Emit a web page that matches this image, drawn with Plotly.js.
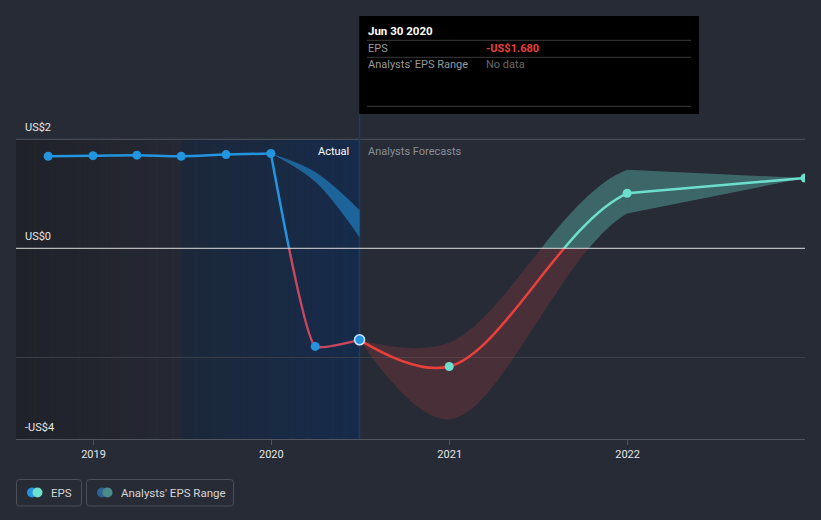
<!DOCTYPE html>
<html>
<head>
<meta charset="utf-8">
<script src="https://cdn.plot.ly/plotly-3.0.1.min.js"></script>
<style>
  html, body { margin: 0; padding: 0; background: #262b36; }
  #chart { width: 821px; height: 520px; }
</style>
</head>
<body>
<div id="chart"></div>
<script>
// ---- data ----
const actualDates = ['2018-09-30','2018-12-31','2019-03-31','2019-06-30','2019-09-30','2019-12-31','2020-03-31','2020-06-30'];
const actualEPS   = [1.69, 1.70, 1.71, 1.69, 1.72, 1.74, -1.80, -1.68];

const forecastDates = ['2020-06-30','2020-12-31','2021-12-31','2022-12-31'];
const forecastEPS   = [-1.68, -2.17, 1.01, 1.29];
const forecastLow   = [-1.68, -3.14, 0.64, 1.29];
const forecastHigh  = [-1.68, -1.73, 1.44, 1.29];

const priorRangeDates = ['2019-12-31','2020-03-31','2020-06-30'];
const priorRangeLow   = [1.74, 1.22, 0.20];
const priorRangeHigh  = [1.74, 1.40, 0.70];

const xTickVals = ['2019-01-01','2020-01-01','2021-01-01','2022-01-01'];
const xTickText = ['2019','2020','2021','2022'];
const yTickVals = [2, 0, -3.5];
const yTickText = ['US$2','US$0','-US$4'];

const tooltipDate = 'Jun 30 2020';
const tooltipEPS = '-US$1.680';
const tooltipRange = 'No data';

// ---- styling / geometry ----
const FONT = 'Roboto, "Open Sans", sans-serif';
const BLUE = '#2394df', TEAL = '#6de0cd', RED = '#e8413c', PINK = '#c9485f';
const TEAL_BAND = 'rgba(110,224,207,0.33)', RED_BAND = 'rgba(232,65,60,0.18)', BLUE_BAND = 'rgba(35,148,223,0.55)';
const W = 821, H = 520, ML = 16, MR = 16, MT = 123, MB = 81;
const PW = W - ML - MR, PH = H - MT - MB;
const X_START = '2018-07-26', X_END = '2022-12-31';
const Y_MIN = -3.5, Y_MAX = 2.3;
const ySplit = (0 - Y_MIN) / (Y_MAX - Y_MIN);
const kneeIdx = 2;                                   // forecast point where the curve kinks
const kneeDate = forecastDates[kneeIdx];
const xSplit = (Date.parse(kneeDate) - Date.parse(X_START)) / (Date.parse(X_END) - Date.parse(X_START));
const fx = px => (px - ML) / PW;
const fy = py => (H - MB - py) / PH;

const traces = [];
traces.push({x: [], y: [], type: 'scatter', mode: 'lines', xaxis: 'x', yaxis: 'y', hoverinfo: 'skip', showlegend: false});

function band(dates, lo, hi, xa, ya, color, sm) {
  const base = {type: 'scatter', mode: 'lines', xaxis: xa, yaxis: ya, hoverinfo: 'skip', showlegend: false};
  traces.push(Object.assign({x: dates, y: lo, line: {width: 0, shape: 'spline', smoothing: sm || 1, color: color}}, base));
  traces.push(Object.assign({x: dates, y: hi, line: {width: 0, shape: 'spline', smoothing: sm || 1, color: color},
    fill: 'tonexty', fillcolor: color}, base));
}
function line(dates, vals, xa, ya, color, sm) {
  traces.push({x: dates, y: vals, type: 'scatter', mode: 'lines', line: {width: 2.5, shape: 'spline', smoothing: sm || 1, color: color},
    xaxis: xa, yaxis: ya, hoverinfo: 'skip', showlegend: false});
}
function markers(dates, vals, xa, ya, color, size, clip, outline) {
  traces.push({x: dates, y: vals, type: 'scatter', mode: 'markers', cliponaxis: clip,
    marker: {size: size, color: color, line: {width: outline ? 1.5 : 0, color: outline || color}},
    xaxis: xa, yaxis: ya, hoverinfo: 'skip', showlegend: false});
}
function pick(dates, vals, test) {
  const d = [], v = [];
  dates.forEach((t, i) => { if (test(vals[i], i)) { d.push(t); v.push(vals[i]); } });
  return [d, v];
}
const flatA = [actualDates.slice(0, 6), actualEPS.slice(0, 6)];
const dropA = [actualDates.slice(5), actualEPS.slice(5)];
const last = actualEPS.length - 1;
const lastF = forecastEPS.length - 1;

// head part (up to the knee), above zero: x2/y2
band(priorRangeDates, priorRangeLow, priorRangeHigh, 'x2', 'y2', BLUE_BAND);
band(forecastDates, forecastLow, forecastHigh, 'x2', 'y2', TEAL_BAND);
line(flatA[0], flatA[1], 'x2', 'y2', BLUE);
line(dropA[0], dropA[1], 'x2', 'y2', BLUE, 0.4);
line(forecastDates, forecastEPS, 'x2', 'y2', TEAL);
let [ad, av] = pick(actualDates, actualEPS, v => v >= 0);
markers(ad, av, 'x2', 'y2', BLUE, 9, false);
let [fd, fv] = pick(forecastDates, forecastEPS, (v, i) => v >= 0 && i > 0 && i < lastF);
markers(fd, fv, 'x2', 'y2', TEAL, 9, false);

// head part, below zero: x2/y3
band(forecastDates, forecastLow, forecastHigh, 'x2', 'y3', RED_BAND);
line(dropA[0], dropA[1], 'x2', 'y3', PINK, 0.4);
line(forecastDates, forecastEPS, 'x2', 'y3', RED);
[ad, av] = pick(actualDates, actualEPS, (v, i) => v < 0 && i < last);
markers(ad, av, 'x2', 'y3', BLUE, 9, false);
[fd, fv] = pick(forecastDates, forecastEPS, (v, i) => v < 0 && i > 0 && i < lastF);
markers(fd, fv, 'x2', 'y3', TEAL, 9, false);
markers([actualDates[last]], [actualEPS[last]], 'x2', 'y3', BLUE, 10, false, '#cfe6ff');

// tail part (after the knee), above zero: x/y2
const tD = forecastDates.slice(kneeIdx), tE = forecastEPS.slice(kneeIdx);
band(tD, forecastLow.slice(kneeIdx), forecastHigh.slice(kneeIdx), 'x', 'y2', TEAL_BAND);
line(tD, tE, 'x', 'y2', TEAL);
markers([forecastDates[lastF]], [forecastEPS[lastF]], 'x', 'y2', TEAL, 9, true);

// ---- shapes ----
const shapes = [];
function lerp(a, b, t) { return a.map((v, i) => Math.round(v + (b[i] - v) * t)); }
function stripes(px0, px1, c0, c1, n) {
  for (let i = 0; i < n; i++) {
    const c = lerp(c0, c1, (i + 0.5) / n);
    shapes.push({type: 'rect', layer: 'below', xref: 'paper', yref: 'y',
      x0: fx(px0 + (px1 - px0) * i / n), x1: fx(px0 + (px1 - px0) * (i + 1) / n) + 0.0005,
      y0: Y_MIN, y1: 2, line: {width: 0}, fillcolor: 'rgb(' + c.join(',') + ')'});
  }
}
stripes(16, 181.5, [31, 34, 41], [37, 41, 51], 30);
stripes(181.5, 359.3, [28, 40, 57], [22, 43, 75], 30);
shapes.push({type: 'line', layer: 'below', xref: 'paper', yref: 'y', x0: 0, x1: 1, y0: 2, y1: 2, line: {color: '#4e535e', width: 1}});
shapes.push({type: 'line', layer: 'below', xref: 'x', yref: 'paper', x0: actualDates[last], x1: actualDates[last], y0: 0, y1: fy(114), line: {color: '#1e3b62', width: 1.5}});
shapes.push({type: 'line', layer: 'above', xref: 'paper', yref: 'y', x0: 0, x1: 1, y0: 0, y1: 0, line: {color: '#dedede', width: 1}});
shapes.push({type: 'rect', layer: 'above', xref: 'paper', yref: 'paper', x0: fx(359.3), x1: fx(699), y0: fy(114), y1: fy(16), line: {width: 0}, fillcolor: '#000000'});
[40.3, 57.3, 106.3].forEach(py => shapes.push({type: 'line', layer: 'above', xref: 'paper', yref: 'paper',
  x0: fx(367), x1: fx(691), y0: fy(py), y1: fy(py), line: {color: '#3b3b3b', width: 1}}));
function roundRect(x0, y0, x1, y1, r) {
  const X = fx, Y = fy;
  return {type: 'path', layer: 'above', xref: 'paper', yref: 'paper', line: {color: '#4b505b', width: 1},
    path: `M${X(x0 + r)},${Y(y0)} L${X(x1 - r)},${Y(y0)} Q${X(x1)},${Y(y0)} ${X(x1)},${Y(y0 + r)} L${X(x1)},${Y(y1 - r)} Q${X(x1)},${Y(y1)} ${X(x1 - r)},${Y(y1)} L${X(x0 + r)},${Y(y1)} Q${X(x0)},${Y(y1)} ${X(x0)},${Y(y1 - r)} L${X(x0)},${Y(y0 + r)} Q${X(x0)},${Y(y0)} ${X(x0 + r)},${Y(y0)} Z`};
}
shapes.push(roundRect(16.5, 479.5, 81.5, 506, 3));
shapes.push(roundRect(86.5, 479.5, 233.5, 506, 3));
function dot(cx, cy, r, color) {
  shapes.push({type: 'circle', layer: 'above', xref: 'paper', yref: 'paper', x0: fx(cx - r), x1: fx(cx + r), y0: fy(cy + r), y1: fy(cy - r), line: {width: 0}, fillcolor: color});
}
dot(32, 492.5, 5, BLUE); dot(37.5, 492.5, 5, TEAL);
dot(102, 492.5, 5, '#2d6494'); dot(107.5, 492.5, 5, '#4a8d88');

// ---- annotations ----
const ann = [];
function txt(text, px, py, opts) {
  ann.push(Object.assign({text: text, xref: 'paper', yref: 'paper', x: fx(px), y: fy(py), xanchor: 'left', yanchor: 'middle',
    showarrow: false, font: {family: FONT, size: 11, color: '#dcdcdc'}}, opts || {}));
}
yTickVals.forEach((v, i) => ann.push({text: yTickText[i], xref: 'paper', yref: 'y', x: fx(23), y: v, yshift: 12,
  xanchor: 'left', yanchor: 'middle', showarrow: false, font: {family: FONT, size: 11, color: '#e8e8e8'}}));
txt('Actual', 351, 151, {xanchor: 'right', font: {family: FONT, size: 11, color: '#ffffff'}});
txt('Analysts Forecasts', 366, 151, {font: {family: FONT, size: 11, color: '#8a8f98'}});
txt('<b>' + tooltipDate + '</b>', 366, 31, {font: {family: FONT, size: 11.5, color: '#ffffff'}});
txt('EPS', 366, 48, {font: {family: FONT, size: 11, color: '#9a9a9a'}});
txt('<b>' + tooltipEPS + '</b>', 484, 48, {font: {family: FONT, size: 11, color: RED}});
txt("Analysts' EPS Range", 366, 65, {font: {family: FONT, size: 11, color: '#9a9a9a'}});
txt(tooltipRange, 484, 65, {font: {family: FONT, size: 11, color: '#6a6a6a'}});
txt('EPS', 49, 493, {font: {family: FONT, size: 11.5, color: '#d6d6d6'}});
txt("Analysts' EPS Range", 119, 493, {font: {family: FONT, size: 11.5, color: '#d6d6d6'}});

const layout = {
  width: W, height: H,
  margin: {l: ML, r: MR, t: MT, b: MB, pad: 0},
  paper_bgcolor: '#262b36', plot_bgcolor: 'rgba(0,0,0,0)',
  showlegend: false,
  font: {family: FONT, color: '#dcdcdc'},
  xaxis: {type: 'date', range: [X_START, X_END], domain: [0, 1], tickvals: xTickVals, ticktext: xTickText,
    showgrid: false, zeroline: false, showline: true, linecolor: '#50565f', linewidth: 1,
    ticks: 'outside', ticklen: 5, tickcolor: '#50565f', tickfont: {family: FONT, size: 11, color: '#e6e6e6'},
    anchor: 'y', fixedrange: true},
  xaxis2: {type: 'date', range: [X_START, kneeDate], domain: [0, xSplit], visible: false, anchor: 'y2', fixedrange: true},
  yaxis: {range: [Y_MIN, Y_MAX], domain: [0, 1], tickvals: [-2], showticklabels: false, showgrid: true,
    gridcolor: '#393e49', zeroline: false, ticks: '', fixedrange: true},
  yaxis2: {range: [0, Y_MAX], domain: [ySplit, 1], visible: false, anchor: 'x', fixedrange: true},
  yaxis3: {range: [Y_MIN, 0], domain: [0, ySplit], visible: false, anchor: 'x', fixedrange: true},
  shapes: shapes,
  annotations: ann
};

Plotly.newPlot('chart', traces, layout, {displayModeBar: false, staticPlot: true});
</script>
</body>
</html>
